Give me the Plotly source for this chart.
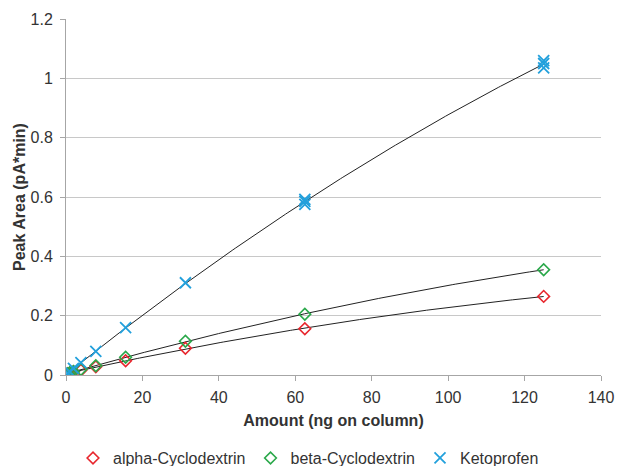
import numpy as np
import plotly.graph_objects as go

amount = [0.49, 0.98, 1.95, 3.9, 7.8, 15.6, 31.25, 62.5, 125]
alpha = [0.004, 0.007, 0.011, 0.016, 0.028, 0.048, 0.090, 0.156, 0.265]
beta = [0.004, 0.008, 0.012, 0.019, 0.031, 0.060, 0.114, 0.205, 0.355]
keto_x = [0.49, 0.98, 1.95, 3.9, 7.8, 15.6, 31.25, 62.5, 62.5, 62.5, 125, 125, 125]
keto = [0.006, 0.011, 0.022, 0.042, 0.080, 0.160, 0.311, 0.575, 0.585, 0.592, 1.035, 1.050, 1.060]

RED = "#e8262d"
GREEN = "#2aa84a"
BLUE = "#22a0dc"

fig = go.Figure()

def fit_line(xs, ys):
    c = np.polyfit(xs, ys, 2)
    xx = np.linspace(min(xs), max(xs), 200)
    return xx, np.polyval(c, xx)

for xs, ys in [(amount, alpha), (amount, beta), (keto_x, keto)]:
    xx, yy = fit_line(xs, ys)
    fig.add_trace(go.Scatter(x=xx, y=yy, mode="lines", line=dict(color="#222222", width=1),
                             showlegend=False, hoverinfo="skip"))

fig.add_trace(go.Scatter(x=amount, y=alpha, mode="markers", name="alpha-Cyclodextrin",
                         marker=dict(symbol="diamond-open", size=9, color=RED, line=dict(width=1.6, color=RED))))
fig.add_trace(go.Scatter(x=amount, y=beta, mode="markers", name="beta-Cyclodextrin",
                         marker=dict(symbol="diamond-open", size=9, color=GREEN, line=dict(width=1.6, color=GREEN))))
fig.add_trace(go.Scatter(x=keto_x, y=keto, mode="markers", name="Ketoprofen",
                         marker=dict(symbol="x-thin-open", size=11, color=BLUE, line=dict(width=1.8, color=BLUE))))

font = "Liberation Sans, Arial, sans-serif"
fig.update_layout(
    width=617, height=466,
    margin=dict(l=66, r=16, t=19, b=91, autoexpand=False),
    paper_bgcolor="white", plot_bgcolor="white",
    font=dict(family=font, size=16, color="#333333"),
    xaxis=dict(range=[0, 140], dtick=20, showgrid=False, showline=True, linecolor="#a6a6a6",
               ticks="outside", ticklen=5, tickcolor="#a6a6a6", zeroline=False, automargin=False,
               ticklabelstandoff=3,
               title=dict(text="<b>Amount (ng on column)</b>", font=dict(size=16), standoff=9)),
    yaxis=dict(range=[0, 1.2], dtick=0.2, showgrid=True, gridcolor="#c8c8c8", gridwidth=1,
               showline=True, linecolor="#a6a6a6", ticks="outside", ticklen=5, tickcolor="#a6a6a6",
               zeroline=False, automargin=False, ticklabelstandoff=4,
               title=dict(text="<b>Peak Area (pA*min)</b>", font=dict(size=16), standoff=0)),
    legend=dict(orientation="h", xref="container", x=0.5, xanchor="center",
                yref="container", y=0.017, yanchor="middle",
                font=dict(size=16), itemwidth=30, tracegroupgap=0),
    showlegend=True,
)

fig.write_html("out.html", config={"displayModeBar": False},
               post_script="document.body.style.margin='0';document.body.style.overflow='hidden';")
